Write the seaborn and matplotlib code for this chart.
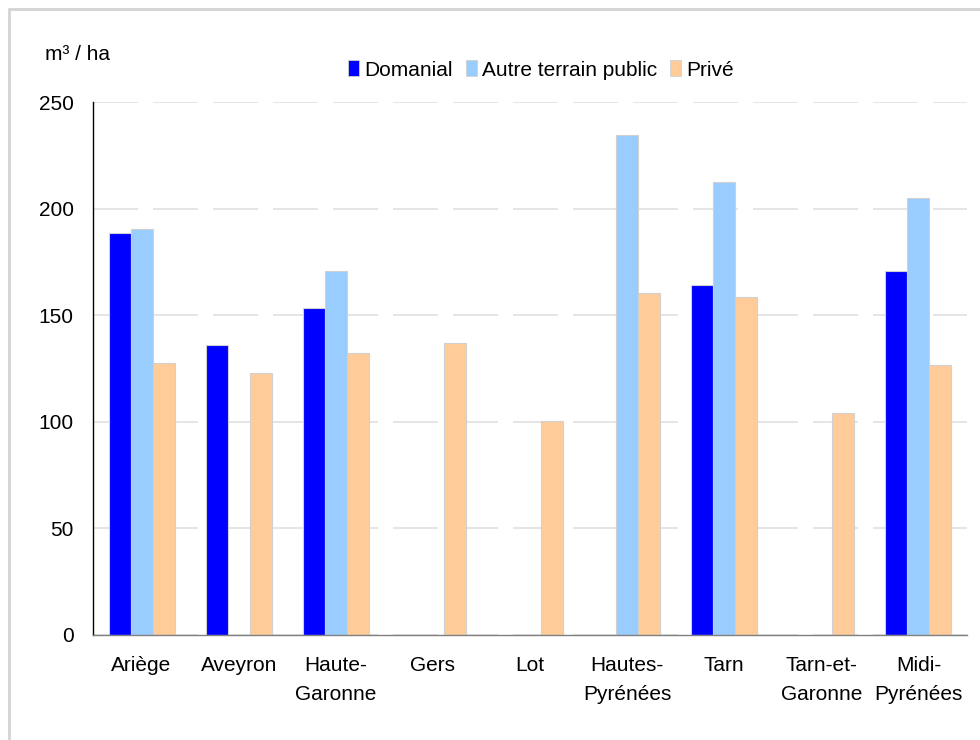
import numpy as np
import pandas as pd
import matplotlib.pyplot as plt
from matplotlib.lines import Line2D
import seaborn as sns

regions = ["Ariège", "Aveyron", "Haute-\nGaronne", "Gers", "Lot",
           "Hautes-\nPyrénées", "Tarn", "Tarn-et-\nGaronne", "Midi-\nPyrénées"]
series = ["Domanial", "Autre terrain public", "Privé"]
domanial = [188.5, 136, 153.5, np.nan, np.nan, np.nan, 164, np.nan, 170.5]
autre_public = [190.5, np.nan, 170.5, np.nan, np.nan, 234.5, 212.5, np.nan, 205]
prive = [127.5, 123, 132.5, 137, 100.5, 160.5, 158.5, 104, 126.5]
colors = ["#0000FF", "#99CCFF", "#FFCC99"]

df = pd.DataFrame({
    "region": regions * 3,
    "serie": [s for s in series for _ in regions],
    "valeur": domanial + autre_public + prive,
}).dropna()

sns.set_theme(style="white")
plt.rcParams["font.family"] = ["Liberation Sans", "DejaVu Sans"]
plt.rcParams["text.color"] = "black"

fig = plt.figure(figsize=(9.8, 7.4), dpi=100)
ax = fig.add_axes([93 / 980, 105 / 740, 874 / 980, 533 / 740])

sns.barplot(data=df, x="region", y="valeur", hue="serie", order=regions,
            hue_order=series, palette=colors, width=0.68, ax=ax,
            edgecolor="#d0d0d0", linewidth=0.8, saturation=1, legend=False)

ax.set_ylim(0, 250)
ax.set_xlim(-0.5, len(regions) - 0.5)
ax.set_yticks(range(0, 251, 50))
ax.yaxis.grid(True, color="#e0e0e0", linewidth=1.2, linestyle=(0, (27, 9)))
ax.set_axisbelow(True)
ax.set_xlabel("")
ax.set_ylabel("")
ax.tick_params(axis="both", length=0, labelsize=15, colors="black")
ax.tick_params(axis="y", pad=14)
ax.tick_params(axis="x", pad=15)
for lab in ax.get_xticklabels():
    lab.set_linespacing(1.65)

for side in ["top", "right"]:
    ax.spines[side].set_visible(False)
ax.spines["left"].set_color("black")
ax.spines["left"].set_linewidth(1)
ax.spines["bottom"].set_color("#808080")
ax.spines["bottom"].set_linewidth(1)

handles = [plt.Rectangle((0, 0), 1, 1, facecolor=c, edgecolor="#d0d0d0", linewidth=0.6)
           for c in colors]
fig.legend(handles, series, loc="center", bbox_to_anchor=(541 / 980, 1 - 70 / 740),
           ncol=3, frameon=False, fontsize=15, handlelength=0.55, handleheight=0.8,
           handletextpad=0.25, columnspacing=0.6)

fig.text(45 / 980, 1 - 55 / 740, "m³ / ha", fontsize=15, va="center", ha="left")

# cadre gris (seuls les bords haut et gauche sont visibles)
fig.add_artist(Line2D([9 / 980, 1], [1 - 9 / 740, 1 - 9 / 740],
                      transform=fig.transFigure, color="#d4d4d4", linewidth=2))
fig.add_artist(Line2D([9 / 980, 9 / 980], [0, 1 - 9 / 740],
                      transform=fig.transFigure, color="#d4d4d4", linewidth=2))

fig.savefig("out.png", dpi=100)
